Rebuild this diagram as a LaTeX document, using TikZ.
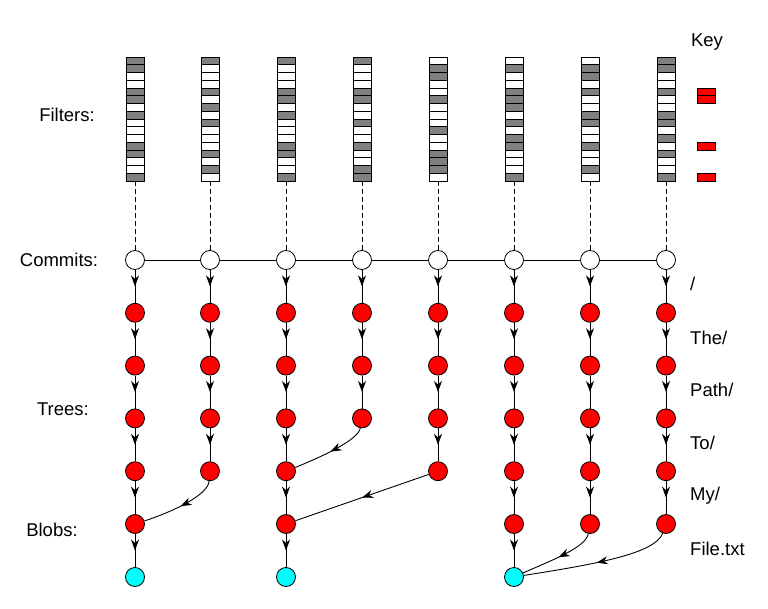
\documentclass[tikz,border=0pt]{standalone}
\usepackage{fontspec}
\setmainfont{Liberation Sans}
\usetikzlibrary{arrows.meta, positioning, decorations.markings}
\definecolor{cBit}{RGB}{128,128,128}
\definecolor{cTree}{RGB}{255,0,0}
\definecolor{cBlob}{RGB}{0,255,255}
\tikzset{
	commit/.style={circle, draw=black, thick, fill=white, minimum size=19pt, inner sep=0pt},
	tree/.style  ={commit, fill=cTree},
	blob/.style  ={commit, fill=cBlob},
	edge/.style  ={line width=0.9pt, postaction={decorate},
		decoration={markings, mark=at position 0.5 with {\arrow{Stealth[length=11pt, width=8pt, inset=3.5pt]}}}},
	bitcell/.style={draw=black, line width=0.9pt},
	lbl/.style   ={font=\fontsize{18.5}{22}\selectfont, inner sep=0pt},
}
\begin{document}
\begin{tikzpicture}[x=1pt, y=-1pt]
	\useasboundingbox (0,0) rectangle (768,609);
	% bloom filters
	\foreach \x/\bits [count=\i] in {
			135/{1,1,0,0,1,1,0,1,0,0,0,1,1,0,0,1},
			210/{1,0,0,0,1,0,1,0,1,0,0,0,1,0,1,0},
			286/{1,0,0,0,1,1,0,1,0,0,0,1,1,0,0,1},
			362/{1,0,0,0,1,1,0,0,1,0,0,1,0,0,1,1},
			438/{0,1,1,0,0,1,0,0,0,1,0,0,1,1,1,0},
			514/{0,1,0,0,1,1,1,0,1,0,1,1,0,0,0,1},
			590/{0,1,1,0,1,0,0,1,1,0,0,1,0,0,1,0},
			666/{1,1,0,0,1,0,0,1,1,0,1,0,1,0,0,1}} {
		\foreach \b [count=\r from 0] in \bits {
			\pgfmathtruncatemacro\pct{100*\b}
			\draw[bitcell, fill=cBit!\pct!white] (\x-9,57+\r*7.75) rectangle ++(18,7.75);
		}
		\coordinate (f\i) at (\x,181);
		\node[commit] (c\i) at (\x,260) {};
		\draw[dash pattern=on 5pt off 3pt, thick] (f\i) -- (c\i);
	}
	\foreach \i [count=\p] in {2,...,8}
		\draw[thick] (c\p) -- (c\i);
	% trees
	\foreach \x/\n [count=\i] in {135/5, 210/4, 286/5, 362/3, 438/4, 514/5, 590/5, 666/5} {
		\foreach \r in {1,...,\n}
			\node[tree] (t\i-\r) at (\x,260+52.8*\r) {};
		\draw[edge] (c\i) -- (t\i-1);
		\foreach \r [count=\p] in {2,...,\n}
			\draw[edge] (t\i-\p) -- (t\i-\r);
	}
	% blobs
	\node[blob] (b1) at (135,577) {};
	\node[blob] (b3) at (286,577) {};
	\node[blob] (b6) at (514,577) {};
	\draw[edge] (t1-5) -- (b1);
	\draw[edge] (t3-5) -- (b3);
	\draw[edge] (t6-5) -- (b6);
	% shared objects
	\draw[edge] (t2-4) .. controls +(95:24) and +(-18:40) .. (t1-5);
	\draw[edge] (t4-3) .. controls +(100:22) and +(-22:38) .. (t3-4);
	\draw[edge] (t5-4) -- (t3-5);
	\draw[edge] (t7-5) .. controls +(100:24) and +(-24:40) .. (b6);
	\draw[edge] (t8-5) .. controls +(110:32) and +(-9:80) .. (b6);
	% key
	\node[lbl] (key) at (707,42) {Key};
	\draw[bitcell, fill=cTree] (697,88) rectangle ++(18,7.75);
	\draw[bitcell, fill=cTree] (697,95.75) rectangle ++(18,7.75);
	\draw[bitcell, fill=cTree] (697,142.25) rectangle ++(18,7.75);
	\draw[bitcell, fill=cTree] (697,173.25) rectangle ++(18,7.75);
	% labels
	\node[lbl] (lfilt) at (67,115) {Filters:};
	\node[lbl] (lcomm) at (59,260) {Commits:};
	\node[lbl] (ltree) at (63,409) {Trees:};
	\node[lbl] (lblob) at (52,530) {Blobs:};
	\node[lbl, anchor=west] (p0) at (690,284) {/};
	\node[lbl, anchor=west] (p1) at (690,338) {The/};
	\node[lbl, anchor=west] (p2) at (690,390) {Path/};
	\node[lbl, anchor=west] (p3) at (690,443) {To/};
	\node[lbl, anchor=west] (p4) at (690,496) {My/};
	\node[lbl, anchor=west] (p5) at (690,549) {File.txt};
\end{tikzpicture}
\end{document}
